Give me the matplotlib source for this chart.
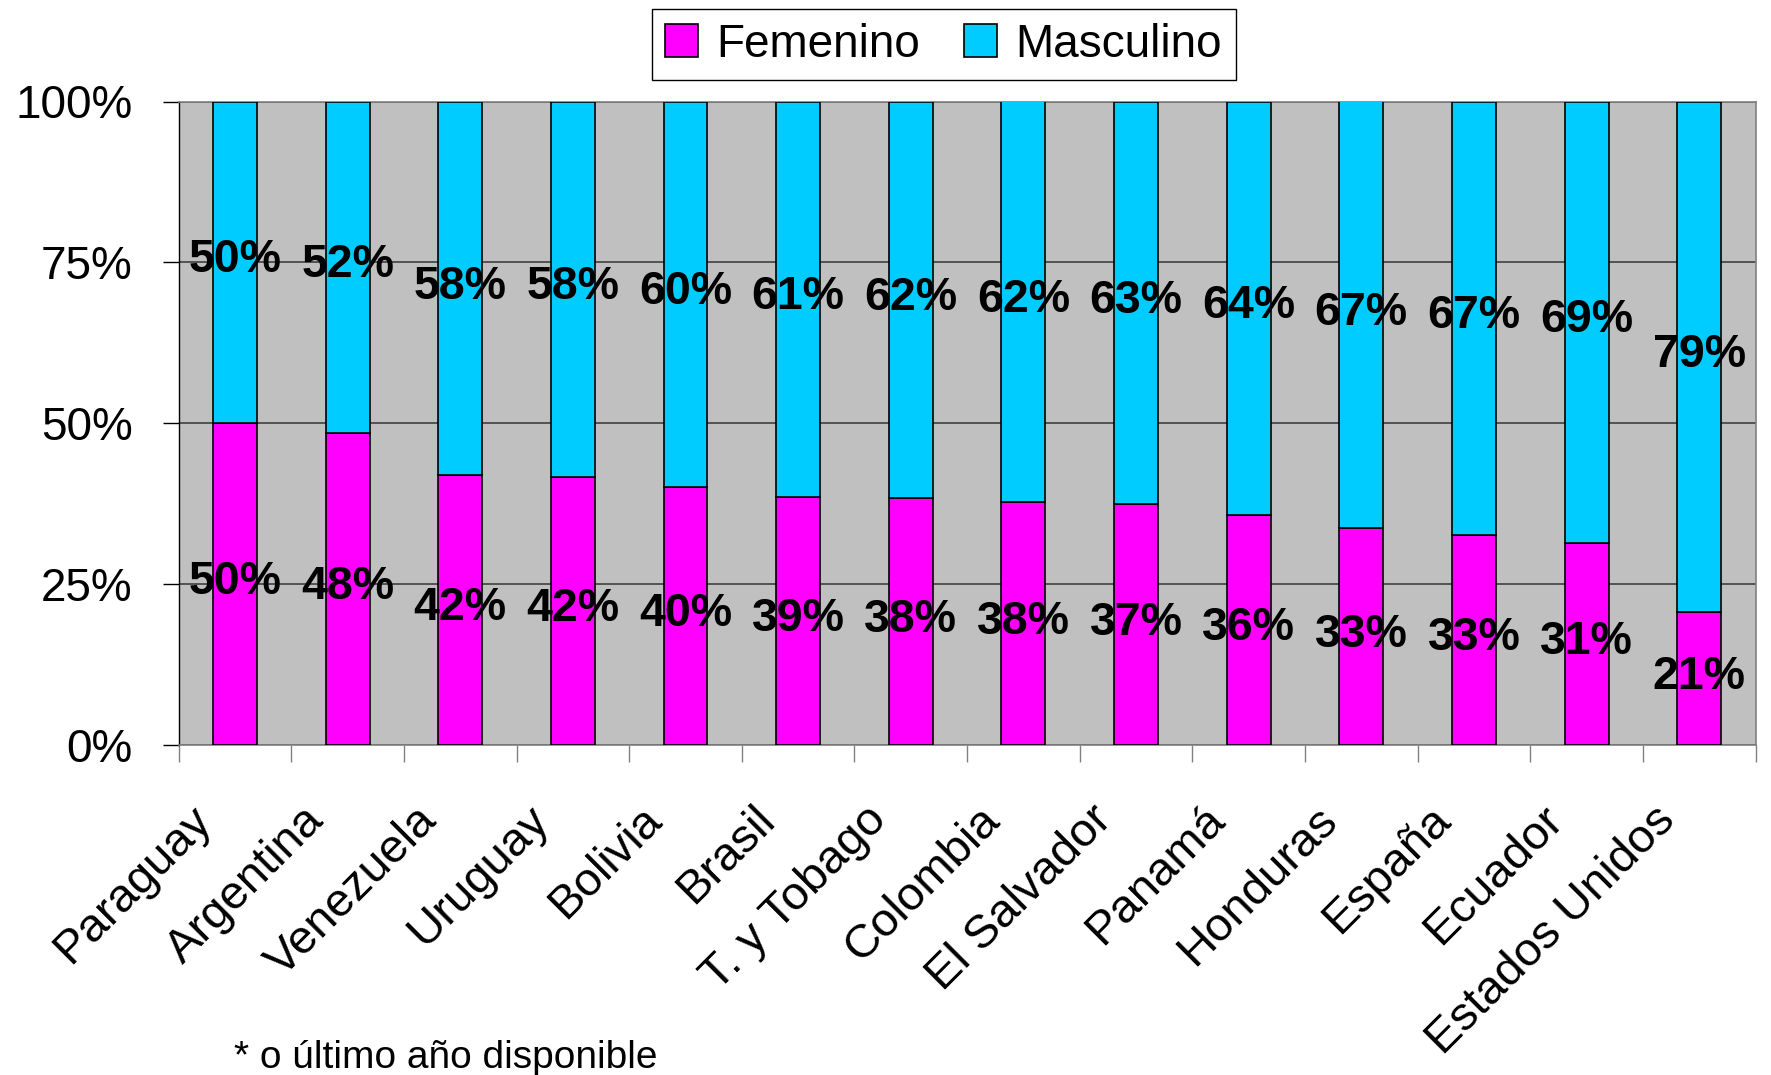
import matplotlib
matplotlib.use("Agg")
import matplotlib.pyplot as plt
import matplotlib.transforms as mtransforms
from matplotlib.patches import Patch
import numpy as np

# ---------------- data ----------------
countries = ["Paraguay", "Argentina", "Venezuela", "Uruguay", "Bolivia", "Brasil",
             "T. y Tobago", "Colombia", "El Salvador", "Panamá", "Honduras",
             "España", "Ecuador", "Estados Unidos"]
femenino = [50.0, 48.5, 41.9, 41.6, 40.1, 38.6, 38.4, 37.7, 37.4, 35.8, 33.7, 32.7, 31.4, 20.6]
masculino = [50.0, 51.5, 58.1, 58.4, 59.9, 61.4, 61.6, 62.3, 62.6, 64.2, 66.3, 67.3, 68.6, 79.4]
fem_labels = ["50%", "48%", "42%", "42%", "40%", "39%", "38%", "38%", "37%", "36%",
              "33%", "33%", "31%", "21%"]
masc_labels = ["50%", "52%", "58%", "58%", "60%", "61%", "62%", "62%", "63%", "64%",
               "67%", "67%", "69%", "79%"]
series_names = ["Femenino", "Masculino"]
y_ticks = [0, 25, 50, 75, 100]
y_ticklabels = ["0%", "25%", "50%", "75%", "100%"]
footnote = "* o último año disponible"

# ---------------- style ----------------
FONT = ["Liberation Sans", "DejaVu Sans"]
plt.rcParams["font.family"] = FONT
C_FEM = "#FF00FF"
C_MAS = "#00CCFF"
BG = "#C0C0C0"

W, H = 1771, 1075
fig = plt.figure(figsize=(W / 100, H / 100), dpi=100)
left, right, top, bottom = 178.7, 1755.5, 101.5, 745.0
ax = fig.add_axes([left / W, 1 - bottom / H, (right - left) / W, (bottom - top) / H])
ax.set_facecolor(BG)

x = np.arange(len(countries))
bw = 0.39
ax.bar(x, femenino, width=bw, color=C_FEM, edgecolor="black", linewidth=1.2, zorder=3)
ax.bar(x, masculino, width=bw, bottom=femenino, color=C_MAS, edgecolor="black",
       linewidth=1.2, zorder=3)

for i in range(len(countries)):
    ax.text(x[i], femenino[i] / 2 + 0.3, fem_labels[i], ha="center", va="center",
            fontsize=33.5, fontweight="bold", zorder=5)
    ax.text(x[i], femenino[i] + masculino[i] / 2 + 0.3, masc_labels[i], ha="center",
            va="center", fontsize=33.5, fontweight="bold", zorder=5)

ax.set_xlim(-0.5, len(countries) - 0.5)
ax.set_ylim(0, 100)

# grid
ax.set_yticks(y_ticks)
ax.set_yticklabels(y_ticklabels, fontsize=33)
ax.yaxis.grid(True, color="#404040", linewidth=1.2, zorder=1)
ax.set_axisbelow(True)
ax.tick_params(axis="y", direction="out", length=11.5, width=1.0, color="black", pad=21.5)

# x ticks: labels at centers, marks at boundaries
ax.set_xticks(x)
ax.set_xticklabels(countries, fontsize=34, rotation=45, ha="right", va="top")
ax.tick_params(axis="x", which="major", length=0, pad=38)
ax.set_xticks(np.arange(-0.5, len(countries), 1.0), minor=True)
ax.tick_params(axis="x", which="minor", direction="out", length=12, width=1.0, color="#808080")
offset = mtransforms.ScaledTranslation(-15 / 100, 0, fig.dpi_scale_trans)
for lab in ax.get_xticklabels():
    lab.set_transform(lab.get_transform() + offset)

for side in ["top", "right", "bottom"]:
    ax.spines[side].set_color("#808080")
    ax.spines[side].set_linewidth(1.2)
ax.spines["left"].set_color("black")
ax.spines["left"].set_linewidth(1.0)

# legend
handles = [Patch(facecolor=C_FEM, edgecolor="black", linewidth=1.2),
           Patch(facecolor=C_MAS, edgecolor="black", linewidth=1.2)]
leg = fig.legend(handles, series_names, loc="center",
                 bbox_to_anchor=(943.6 / W, 1 - 44.6 / H), ncol=2, fontsize=33,
                 frameon=True, fancybox=False, edgecolor="black", framealpha=1,
                 handlelength=0.72, handleheight=0.72, handletextpad=0.4,
                 columnspacing=0.95, borderpad=0.3, borderaxespad=0)
leg.get_frame().set_linewidth(1.0)

fig.text(233.7 / W, 1 - 1068 / H, footnote, fontsize=28, ha="left", va="baseline")

fig.savefig("out.png", dpi=100)
